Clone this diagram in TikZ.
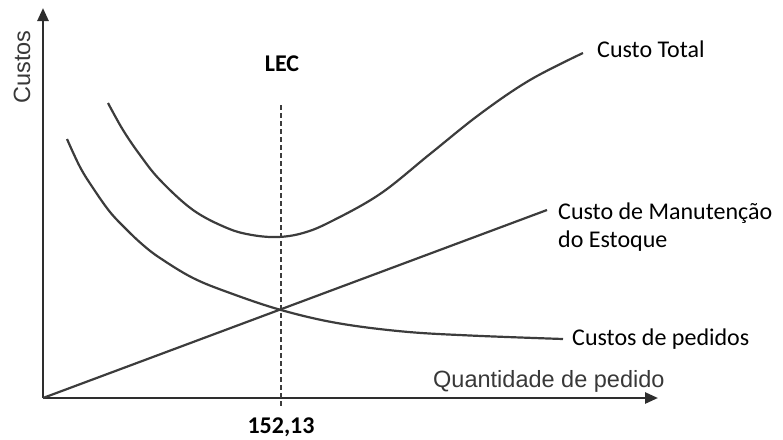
\documentclass[tikz,border=0pt]{standalone}
\usepackage{fontspec}
\setmainfont{Carlito}
\newfontfamily\arialfont{Liberation Sans}
\usetikzlibrary{positioning,calc,arrows.meta}
\definecolor{axisgray}{HTML}{2E2E2E}
\definecolor{curvegray}{HTML}{3C3C3C}
\definecolor{textgray}{HTML}{383838}

\begin{document}
\begin{tikzpicture}[
      x = 1pt, y = -1pt,
      node distance = 10pt,
      axis/.style={draw=axisgray, line width=2.6pt, -{Triangle[length=13pt,width=11pt]}},
      curve/.style={draw=curvegray, line width=2.2pt},
      lbl/.style={inner sep=0pt, font=\fontsize{24}{28}\selectfont},
      boldlbl/.style={lbl, font=\fontsize{24}{28}\selectfont\bfseries},
      axlbl/.style={inner sep=0pt, text=textgray, font=\arialfont\fontsize{23.5}{28}\selectfont},
    ]
      \useasboundingbox (0,0) rectangle (783,439);

      % axes
      \coordinate (O)    at (43,398);
      \coordinate (xEnd) at (658,398);
      \coordinate (yEnd) at (43,8);
      \draw[axis] (O) -- (xEnd);
      \draw[axis] (O) -- (yEnd);
      \node[axlbl, rotate=90] (yLbl) at (22,67) {Custos};
      \node[axlbl, anchor=base west] (xLbl) at (433,387) {Quantidade de pedido};

      % LEC
      \node[boldlbl, anchor=base] (lec) at (282,71) {LEC};
      \node[boldlbl, anchor=base] (lecVal) at (281,433) {152,13};
      \coordinate (lecTop) at (281,105);
      \coordinate (lecBot) at (281,406);
      \draw[curvegray, line width=2.4pt, dash pattern=on 5pt off 3pt] (lecTop) -- (lecBot);

      % custo total
      \coordinate (tcStart) at (108,103);
      \coordinate (tcMin)   at (278,237);
      \coordinate (tcEnd)   at (583,53);
      \draw[curve] plot[smooth, tension=0.6] coordinates {(tcStart) (123,130) (140,155) (160,180) (193,210)
        (227,228) (252,235) (tcMin) (303,233) (330,222) (380,194) (430,154) (480,114) (530,80) (tcEnd)};
      \node[lbl, anchor=base west] (tcLbl) at ($ (tcEnd) + (14,4) $) {Custo Total};

      % custo de manutencao
      \coordinate (hcEnd) at (547,210);
      \draw[curve] (O) -- (hcEnd);
      \node[lbl, anchor=north west, align=left] (hcLbl) at ($ (hcEnd) + (11,-7) $) {Custo de Manutenção\\do Estoque};

      % custos de pedidos
      \coordinate (ocStart) at (67,139);
      \coordinate (ocEnd)   at (563,339);
      \draw[curve] plot[smooth, tension=0.6] coordinates {(ocStart) (80,167) (93,188) (110,212) (127,230)
        (143,245) (160,258) (193,278) (230,293) (281,310) (337,323) (403,331.5) (470,335.5) (ocEnd)};
      \node[lbl, anchor=base west] (ocLbl) at ($ (ocEnd) + (9,6) $) {Custos de pedidos};

    \end{tikzpicture}
\end{document}
